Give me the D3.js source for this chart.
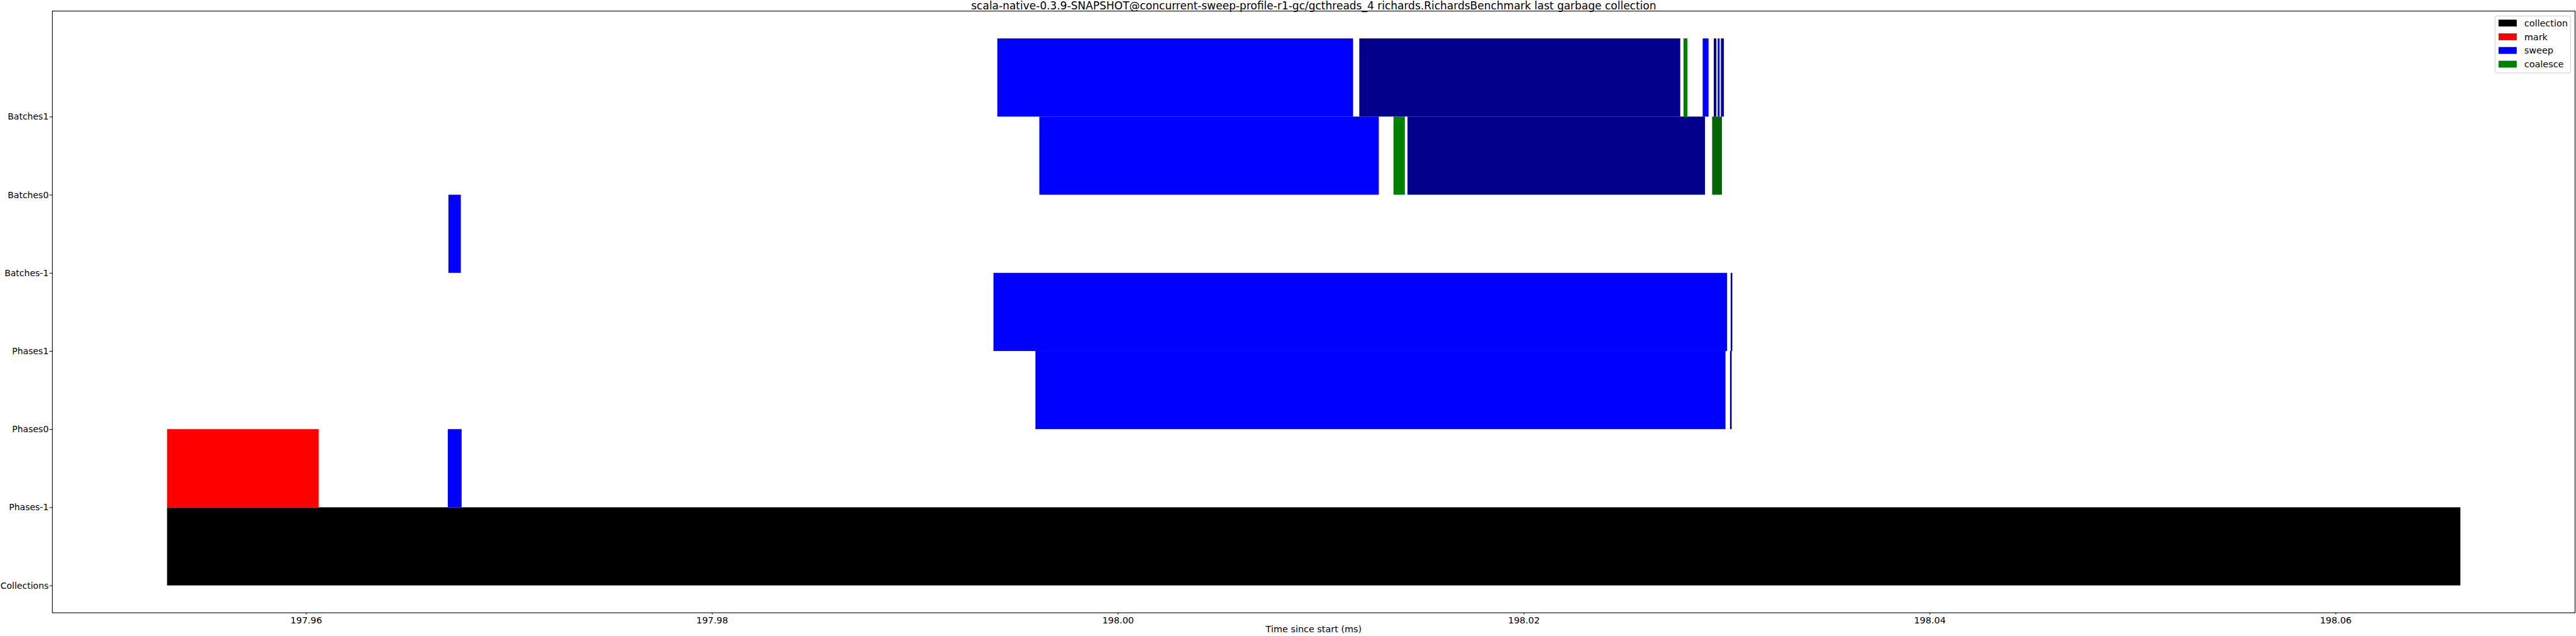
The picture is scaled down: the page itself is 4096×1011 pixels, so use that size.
<!DOCTYPE html>
<html>
<head>
<meta charset="utf-8">
<script src="https://cdn.jsdelivr.net/npm/d3@7"></script>
<style>
  html, body { margin: 0; padding: 0; background: #fff; }
  svg { display: block; font-family: "DejaVu Sans", sans-serif; }
</style>
</head>
<body>
<svg id="chart" width="4096" height="1011"></svg>
<script>
// ---------------- data ----------------
const titleText = "scala-native-0.3.9-SNAPSHOT@concurrent-sweep-profile-r1-gc/gcthreads_4 richards.RichardsBenchmark last garbage collection";
const xLabel = "Time since start (ms)";
const categories = ["Collections", "Phases-1", "Phases0", "Phases1", "Batches-1", "Batches0", "Batches1"];
const xTickValues = [197.96, 197.98, 198.00, 198.02, 198.04, 198.06];
const legendNames = ["collection", "mark", "sweep", "coalesce"];

// spans: [row, start(ms), end(ms)]
const collectionSpans = [
  ["Collections", 197.953156, 198.066155]
];
const markSpans = [
  ["Phases-1", 197.953156, 197.960626]
];
const sweepSpans = [
  ["Phases-1", 197.966990, 197.967670],
  ["Batches-1", 197.967020, 197.967630],
  ["Phases0", 197.995942, 198.029944],
  ["Phases1", 197.993874, 198.030024],
  ["Batches0", 197.996135, 198.012863],
  ["Batches1", 197.994066, 198.011596],
  ["Batches1", 198.028821, 198.029110],
  ["Batches1", 198.029559, 198.029655]
];
const sweepAltSpans = [
  ["Phases0", 198.030168, 198.030249],
  ["Phases1", 198.030200, 198.030281],
  ["Batches0", 198.014275, 198.028934],
  ["Batches1", 198.011901, 198.027715],
  ["Batches1", 198.029367, 198.029495],
  ["Batches1", 198.029719, 198.029864]
];
const coalesceSpans = [
  ["Batches0", 198.013585, 198.014146],
  ["Batches1", 198.027875, 198.028068]
];
const coalesceAltSpans = [
  ["Batches0", 198.029287, 198.029768]
];

// ---------------- styles ----------------
const colors = {
  collection: "#000000",
  mark: "#ff0000",
  sweep: "#0000ff",
  sweepAlt: "#00008b",
  coalesce: "#008000",
  coalesceAlt: "#006400"
};
const legendColors = [colors.collection, colors.mark, colors.sweep, colors.coalesce];

const plot = { left: 83.3, right: 4094.5, top: 17.6, bottom: 974.1 };
const fontSize = 14.4;

const svg = d3.select("#chart");

// ---------------- scales ----------------
const layers = [
  { spans: collectionSpans, color: colors.collection },
  { spans: markSpans, color: colors.mark },
  { spans: sweepSpans, color: colors.sweep },
  { spans: sweepAltSpans, color: colors.sweepAlt },
  { spans: coalesceSpans, color: colors.coalesce },
  { spans: coalesceAltSpans, color: colors.coalesceAlt }
];
const allSpans = layers.flatMap(l => l.spans);
const xmin = d3.min(allSpans, d => d[1]);
const xmax = d3.max(allSpans, d => d[2]);
const xpad = (xmax - xmin) * 0.05;
const x = d3.scaleLinear().domain([xmin - xpad, xmax + xpad]).range([plot.left, plot.right]);

const n = categories.length;
const ypad = n * 0.05;
const y = d3.scaleLinear().domain([-ypad, n + ypad]).range([plot.bottom, plot.top]);
const rowIndex = name => categories.indexOf(name);

// ---------------- bars ----------------
const barsG = svg.append("g");
layers.forEach(layer => {
  barsG.append("g").selectAll("rect").data(layer.spans).join("rect")
    .attr("x", d => x(d[1]))
    .attr("width", d => Math.max(0.5, x(d[2]) - x(d[1])))
    .attr("y", d => y(rowIndex(d[0]) + 1))
    .attr("height", d => y(rowIndex(d[0])) - y(rowIndex(d[0]) + 1))
    .attr("fill", layer.color);
});

// ---------------- axes ----------------
const xAxis = d3.axisBottom(x).tickValues(xTickValues).tickFormat(d3.format(".2f"))
  .tickSize(2.8).tickPadding(3.4);
const gx = svg.append("g").attr("transform", `translate(0,${plot.bottom})`).call(xAxis);
gx.select(".domain").remove();
gx.selectAll("text").attr("font-size", fontSize).attr("font-family", "DejaVu Sans").attr("fill", "#000");
gx.selectAll("line").attr("stroke", "#000").attr("stroke-width", 1);

const yAxis = d3.axisLeft(y).tickValues(d3.range(n)).tickFormat(i => categories[i])
  .tickSize(4.6).tickPadding(1.4);
const gy = svg.append("g").attr("transform", `translate(${plot.left},0)`).call(yAxis);
gy.select(".domain").remove();
gy.selectAll("text").attr("font-size", 14.0).attr("font-family", "DejaVu Sans").attr("fill", "#000");
gy.selectAll("line").attr("stroke", "#000").attr("stroke-width", 1);

// frame
svg.append("rect")
  .attr("x", plot.left).attr("y", plot.top)
  .attr("width", plot.right - plot.left).attr("height", plot.bottom - plot.top)
  .attr("fill", "none").attr("stroke", "#000").attr("stroke-width", 1.1);

// title
svg.append("text")
  .attr("x", (plot.left + plot.right) / 2).attr("y", 14.6)
  .attr("text-anchor", "middle").attr("font-size", 17.0).attr("fill", "#000")
  .text(titleText);

// x label
svg.append("text")
  .attr("x", (plot.left + plot.right) / 2).attr("y", 1005)
  .attr("text-anchor", "middle").attr("font-size", fontSize).attr("fill", "#000")
  .text(xLabel);

// ---------------- legend ----------------
const lg = svg.append("g");
lg.append("rect")
  .attr("x", 3967.2).attr("y", 25.4).attr("width", 120.1).attr("height", 90.5)
  .attr("rx", 3).attr("ry", 3)
  .attr("fill", "#fff").attr("fill-opacity", 0.8)
  .attr("stroke", "#cccccc").attr("stroke-width", 1);
const rowY = [36.7, 58.5, 80.2, 102.0];
const items = lg.selectAll("g.item").data(legendNames).join("g").attr("class", "item")
  .attr("transform", (d, i) => `translate(0,${rowY[i]})`);
items.append("rect")
  .attr("x", 3972.8).attr("y", -5.45).attr("width", 29).attr("height", 10.9)
  .attr("fill", (d, i) => legendColors[i]);
items.append("text")
  .attr("x", 4013.8).attr("y", 0).attr("dy", "0.35em")
  .attr("font-size", fontSize).attr("fill", "#000")
  .text(d => d);
</script>
</body>
</html>
